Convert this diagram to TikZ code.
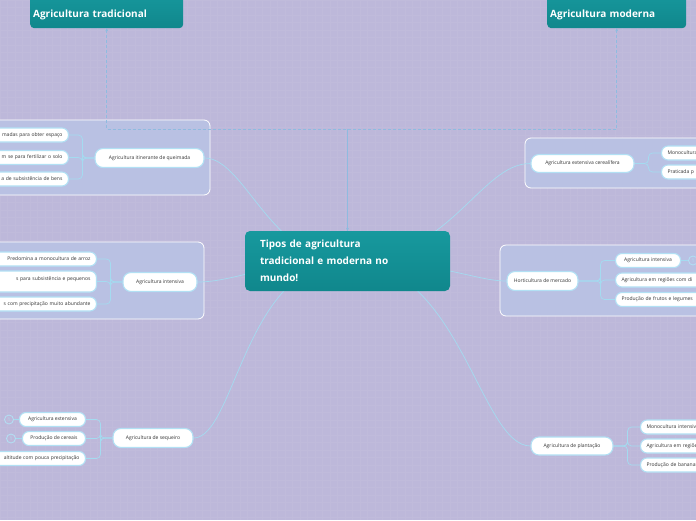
\documentclass[tikz,border=0pt]{standalone}
\usepackage{fontspec}
\setmainfont{Open Sans}
\usetikzlibrary{arrows.meta,calc}
\pgfdeclarelayer{bg}
\pgfdeclarelayer{conn}
\pgfsetlayers{bg,conn,main}
\definecolor{bgc}{HTML}{BDB8DA}
\definecolor{grp}{HTML}{B9C1E3}
\definecolor{teal1}{HTML}{17999E}
\definecolor{teal2}{HTML}{10878C}
\definecolor{lnk}{HTML}{A4DBF0}
\definecolor{pillb}{HTML}{B2E0F4}
\definecolor{relc}{HTML}{8FBBE0}
\definecolor{txt}{HTML}{333333}
\tikzset{
 pill/.style={draw=pillb, line width=1.1pt, fill=white, rounded corners=6.5pt,
   font=\fontsize{5}{5.9}\selectfont, text=txt, minimum height=14pt, inner xsep=6pt, inner ysep=0pt},
 mainpill/.style={pill, minimum height=19pt, rounded corners=8pt},
 lclip/.style={pill, anchor=east, text width=100pt, align=right},
 rclip/.style={pill, anchor=west, text width=110pt, align=left},
 conn/.style={draw=lnk, line width=0.7pt},
 elbow/.style={conn, rounded corners=4pt},
 rel/.style={draw=relc, line width=0.9pt, dash pattern=on 3pt off 2pt, >={Stealth[length=3pt,width=3pt]}},
 grpbox/.style={draw=white, line width=0.8pt, fill=grp, rounded corners=6pt},
 hdr/.style={top color=teal1, bottom color=teal2, rounded corners=4pt, text=white,
   font=\bfseries\fontsize{10}{12}\selectfont, anchor=north west, align=left, inner xsep=3pt},
 topbox/.style={hdr, minimum height=38pt, inner ysep=0pt, text height=20pt, text depth=4pt},
 badge/.style={circle, draw=pillb, line width=0.8pt, minimum size=9pt, inner sep=0pt,
   text=pillb, font=\fontsize{5}{6}\selectfont}
}
\begin{document}
\begin{tikzpicture}[x=1pt,y=-1pt]
\useasboundingbox (0,0) rectangle (696,520);
\begin{pgfonlayer}{bg}
\fill[bgc] (0,0) rectangle (696,520);
\draw[white, opacity=0.05, line width=0.3pt, step=7.5pt] (0,0) grid (696,520);
\path[grpbox] (-10,120) rectangle (210,195);
\path[grpbox] (-10,242) rectangle (204,319);
\path[grpbox] (525,138) rectangle (710,188);
\path[grpbox] (500,245) rectangle (710,316);
\end{pgfonlayer}

% headers
\node[topbox, minimum width=153pt, text width=147pt] (trad) at (30,-10) {Agricultura tradicional};
\node[topbox, minimum width=139pt, text width=133pt] (moderna) at (547,-10) {Agricultura moderna};
\node[hdr, anchor=center, minimum width=205pt, minimum height=60pt, text width=175pt, inner xsep=15pt,
  font=\bfseries\fontsize{10}{17}\selectfont, rounded corners=5pt] (ctr) at (347.5,261)
  {Tipos de agricultura\\tradicional e moderna no\\mundo!};

% left upper group
\node[mainpill, minimum width=109pt] (itin) at (149.5,158) {Agricultura itinerante de queimada};
\node[lclip] (c11) at (69,135) {madas para obter espaço};
\node[lclip] (c12) at (69,157.5) {m se para fertilizar o solo};
\node[lclip] (c13) at (69,179) {a de subsistência de bens};

% left middle group
\node[mainpill, minimum width=74pt] (intens) at (160,282) {Agricultura intensiva};
\node[lclip] (c21) at (97,259) {Predomina a  monocultura de arroz};
\node[lclip, minimum height=21pt] (c22) at (97,281.5) {s para subsistência e pequenos\\ \mbox{}};
\node[lclip] (c23) at (97,304) {s com precipitação muito abundante};

% bottom left
\node[mainpill, minimum width=80pt] (seq) at (153,438) {Agricultura de sequeiro};
\node[pill, anchor=east, minimum width=66pt] (c31) at (86,419.5) {Agricultura extensiva};
\node[pill, anchor=east, minimum width=63pt] (c32) at (86,438.5) {Produção de cereais};
\node[lclip] (c33) at (86,458.5) {altitude com pouca precipitação};
\node[badge] (b1) at (9,419.5) {1};
\node[badge] (b2) at (11,438.5) {1};

% right upper group
\node[mainpill, minimum width=103pt, minimum height=18pt] (cer) at (582.5,163.5) {Agricultura extensiva cerealífera};
\node[rclip] (c41) at (661,153) {Monocultura};
\node[rclip] (c42) at (661,172) {Praticada p};

% right middle group
\node[mainpill, minimum width=71pt] (hort) at (542.5,281) {Horticultura de mercado};
\node[pill, anchor=west, minimum width=65pt] (c51) at (615,260.5) {Agricultura intensiva};
\node[rclip] (c52) at (615,280) {Agricultura em regiões com di};
\node[rclip] (c53) at (615,299.5) {Produção de frutos e legumes};
\node[badge] (b3) at (693,260.5) {1};

% bottom right
\node[mainpill, minimum width=82pt, minimum height=18pt] (plant) at (572,446) {Agricultura de plantação};
\node[rclip] (c61) at (640,427) {Monocultura intensiva};
\node[rclip] (c62) at (640,446) {Agricultura em regiões};
\node[rclip] (c63) at (640,465) {Produção de bananas};

\begin{pgfonlayer}{conn}
\draw[conn] (itin.east) .. controls (245,158) and (270,261) .. (ctr.center);
\draw[conn] (intens.east) .. controls (235,282) and (270,261) .. (ctr.center);
\draw[conn] (seq.east) .. controls (235,438) and (245,261) .. (ctr.center);
\draw[conn] (cer.west) .. controls (480,163) and (450,261) .. (ctr.center);
\draw[conn] (hort.west) .. controls (475,281) and (440,261) .. (ctr.center);
\draw[conn] (plant.west) .. controls (480,446) and (460,261) .. (ctr.center);

\draw[elbow] (itin.west) -- ++(-12,0) |- (c11.east);
\draw[elbow] (itin.west) -- ++(-12,0) |- (c12.east);
\draw[elbow] (itin.west) -- ++(-12,0) |- (c13.east);
\draw[elbow] (intens.west) -- ++(-12,0) |- (c21.east);
\draw[elbow] (intens.west) -- ++(-12,0) |- (c22.east);
\draw[elbow] (intens.west) -- ++(-12,0) |- (c23.east);
\draw[elbow] (seq.west) -- ++(-12,0) |- (c31.east);
\draw[elbow] (seq.west) -- ++(-12,0) |- (c32.east);
\draw[elbow] (seq.west) -- ++(-12,0) |- (c33.east);
\draw[elbow] (cer.east) -- ++(14,0) |- (c41.west);
\draw[elbow] (cer.east) -- ++(14,0) |- (c42.west);
\draw[elbow] (hort.east) -- ++(22,0) |- (c51.west);
\draw[elbow] (hort.east) -- ++(22,0) |- (c52.west);
\draw[elbow] (hort.east) -- ++(22,0) |- (c53.west);
\draw[elbow] (plant.east) -- ++(14,0) |- (c61.west);
\draw[elbow] (plant.east) -- ++(14,0) |- (c62.west);
\draw[elbow] (plant.east) -- ++(14,0) |- (c63.west);
\draw[conn] (b1) -- (c31);
\draw[conn] (b2) -- (c32);
\draw[conn] (c51) -- (b3);

\draw[rel, <-] (trad.south) -- ++(0,101) -| (ctr.north);
\draw[rel, <->] (moderna.south) -- ++(0,101) -| (ctr.north);
\end{pgfonlayer}
\end{tikzpicture}
\end{document}
